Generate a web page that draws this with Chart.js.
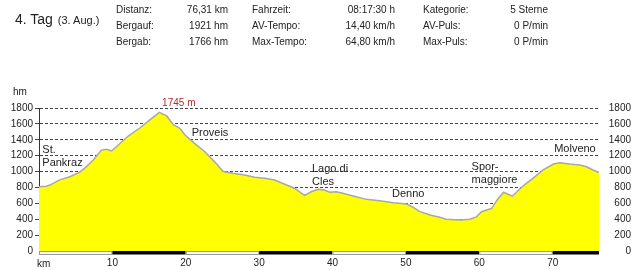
<!DOCTYPE html>
<html>
<head>
<meta charset="utf-8">
<script src="https://cdn.jsdelivr.net/npm/chart.js@4.4.0/dist/chart.umd.min.js"></script>
<style>
  html, body { margin: 0; padding: 0; background: #fff; }
  #wrap { position: relative; width: 640px; height: 270px; font-family: 'Liberation Sans', Arial, sans-serif; color: #222; }
  #chart { position: absolute; left: 0; top: 0; }
  .title { position: absolute; left: 15px; top: 12px; font-size: 14px; line-height: 14px; white-space: nowrap; }
  .title small { font-size: 11px; margin-left: 1px; }
  .cell { position: absolute; font-size: 10px; line-height: 16px; white-space: nowrap; }
  .cell.r { width: 100px; text-align: right; }
</style>
</head>
<body>
<div id="wrap">
  <canvas id="chart" width="640" height="270"></canvas>
  <div class="title">4. Tag <small>(3. Aug.)</small></div>
  <div id="stats"></div>
</div>
<script>
// Höhenprofil: km / hm
const kmValues = [0, 1.0, 1.5, 2.8, 4.2, 5.5, 6.2, 7.4, 8.5, 9.2, 9.9, 10.8, 12.2, 13.7, 15.1, 16.4, 17.4, 18.3, 19.2,
  19.9, 21.2, 22.6, 23.9, 25.1, 26.4, 28.0, 29.4, 30.8, 32.1, 33.5, 34.8, 36.2, 37.1, 38.0, 38.9, 39.6, 40.5, 41.4,
  42.8, 44.6, 46.4, 48.3, 50.1, 51.0, 51.9, 53.3, 54.6, 55.5, 57.4, 58.7, 59.6, 60.3, 61.0, 61.7, 62.4, 63.3, 64.5,
  65.5, 66.4, 67.3, 68.7, 70.1, 71.0, 72.3, 73.7, 74.6, 75.5, 76.31];
const hmValues = [810, 815, 830, 895, 935, 990, 1040, 1145, 1270, 1280, 1260, 1335, 1450, 1545, 1650, 1745, 1700, 1590, 1545,
  1460, 1355, 1250, 1125, 1000, 978, 957, 928, 915, 894, 840, 790, 700, 746, 776, 768, 740, 746, 726,
  692, 650, 633, 608, 592, 550, 495, 453, 424, 400, 390, 400, 430, 495, 516, 537, 640, 740, 690,
  780, 852, 915, 1020, 1095, 1112, 1095, 1083, 1061, 1020, 986];

const xTickValues = [10, 20, 30, 40, 50, 60, 70];
const yTickValues = [0, 200, 400, 600, 800, 1000, 1200, 1400, 1600, 1800];

// Ortsnamen (Position in km / hm)
const placeNames = ['St.', 'Pankraz', 'Proveis', 'Lago.di', 'Cles', 'Denno', 'Spor-', 'maggiore', 'Molveno'];
const placeKm = [0.45, 0.45, 20.8, 37.2, 37.2, 48.1, 58.95, 58.95, 70.2];
const placeHm = [1270, 1110, 1490, 1030, 870, 715, 1055, 895, 1285];
const peakText = '1745 m';
const peakKm = 19.05;
const peakHm = 1855;

const statLabels1 = ['Distanz:', 'Bergauf:', 'Bergab:'];
const statValues1 = ['76,31 km', '1921 hm', '1766 hm'];
const statLabels2 = ['Fahrzeit:', 'AV-Tempo:', 'Max-Tempo:'];
const statValues2 = ['08:17:30 h', '14,40 km/h', '64,80 km/h'];
const statLabels3 = ['Kategorie:', 'AV-Puls:', 'Max-Puls:'];
const statValues3 = ['5 Sterne', '0 P/min', '0 P/min'];

// Kopfzeile
const cols = [[statLabels1, statValues1, 116, 228], [statLabels2, statValues2, 252, 395], [statLabels3, statValues3, 423, 548]];
let html = '';
cols.forEach(([labels, values, lx, rx]) => {
  labels.forEach((l, i) => {
    const top = 1.5 + i * 16;
    html += `<div class="cell" style="left:${lx}px;top:${top}px">${l}</div>`;
    html += `<div class="cell r" style="left:${rx - 100}px;top:${top}px">${values[i]}</div>`;
  });
});
document.getElementById('stats').innerHTML = html;

const FONT = "'Liberation Sans', Arial, sans-serif";
Chart.defaults.font.family = FONT;
Chart.defaults.color = '#222';

const profilExtras = {
  id: 'profilExtras',
  afterDraw(chart) {
    const { ctx, chartArea } = chart;
    const xs = chart.scales.x, ys = chart.scales.y;
    ctx.save();

    // Maßstabsbalken unten
    const bounds = [0, ...xTickValues, xs.max];
    const by = chartArea.bottom;
    for (let i = 0; i < bounds.length - 1; i++) {
      const x1 = xs.getPixelForValue(bounds[i]);
      const x2 = xs.getPixelForValue(bounds[i + 1]);
      if (i % 2 === 1) {
        ctx.fillStyle = '#000';
        ctx.fillRect(x1, by, x2 - x1, 3.5);
      } else {
        ctx.fillStyle = '#fff';
        ctx.fillRect(x1, by, x2 - x1, 3.5);
        ctx.strokeStyle = '#999';
        ctx.lineWidth = 1;
        ctx.strokeRect(x1 + 0.5, by + 0.5, x2 - x1 - 1, 3);
      }
    }

    // Achsentitel
    ctx.fillStyle = '#222';
    ctx.font = `10px ${FONT}`;
    ctx.textBaseline = 'middle';
    ctx.textAlign = 'left';
    ctx.fillText('hm', 13, chartArea.top - 16);
    ctx.fillText('km', xs.getPixelForValue(0) - 2, 264);

    // Ortsnamen
    ctx.font = `11px ${FONT}`;
    placeNames.forEach((name, i) => {
      ctx.fillText(name, xs.getPixelForValue(placeKm[i]), ys.getPixelForValue(placeHm[i]));
    });

    // Gipfel
    ctx.fillStyle = '#b03030';
    ctx.font = `10px ${FONT}`;
    ctx.textAlign = 'center';
    ctx.fillText(peakText, xs.getPixelForValue(peakKm), ys.getPixelForValue(peakHm));
    ctx.restore();
  }
};

const setTicks = values => scale => { scale.ticks = values.map(v => ({ value: v })); };
const plain = v => String(v);

new Chart(document.getElementById('chart').getContext('2d'), {
  type: 'line',
  data: {
    datasets: [{
      data: kmValues.map((k, i) => ({ x: k, y: hmValues[i] })),
      borderColor: '#a8a8a8',
      borderWidth: 1.5,
      backgroundColor: '#ffff00',
      fill: 'origin',
      pointRadius: 0,
      tension: 0
    }]
  },
  options: {
    responsive: false,
    animation: false,
    layout: { padding: { top: 108, left: 0, right: 9, bottom: 0 } },
    plugins: { legend: { display: false }, tooltip: { enabled: false } },
    scales: {
      x: {
        type: 'linear', min: 0, max: 76.31,
        afterBuildTicks: setTicks(xTickValues),
        afterFit: s => { s.height = 19; },
        grid: { display: false, drawTicks: false },
        border: { display: false },
        ticks: { font: { size: 10 }, color: '#222', padding: 6, maxRotation: 0, autoSkip: false, callback: plain }
      },
      y: {
        position: 'left', min: 0, max: 1800, z: 1,
        afterBuildTicks: setTicks(yTickValues),
        afterFit: s => { s.width = 39; },
        grid: {
          color: c => (c.tick && c.tick.value === 0) ? 'rgba(0,0,0,0)' : '#444',
          lineWidth: 1, drawTicks: true, tickLength: 4
        },
        border: { display: true, color: '#333', width: 1, dash: [3, 2] },
        ticks: { font: { size: 10 }, color: '#222', padding: 2, autoSkip: false, callback: plain }
      },
      y2: {
        position: 'right', min: 0, max: 1800,
        afterBuildTicks: setTicks(yTickValues),
        afterFit: s => { s.width = 32; },
        grid: { display: false, drawTicks: false, drawOnChartArea: false },
        border: { display: false },
        ticks: { font: { size: 10 }, color: '#222', padding: 9, crossAlign: 'far', autoSkip: false, callback: plain }
      }
    }
  },
  plugins: [profilExtras]
});
</script>
</body>
</html>
